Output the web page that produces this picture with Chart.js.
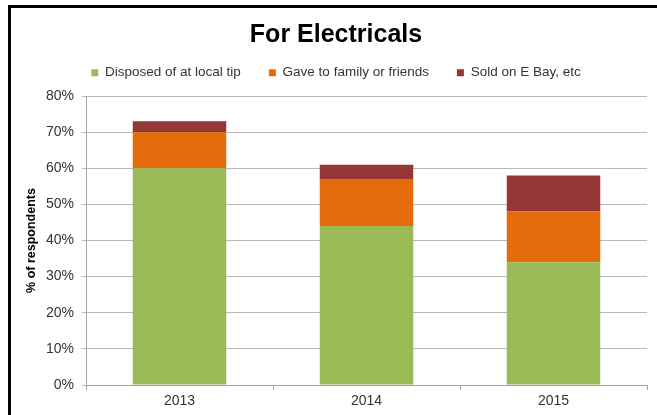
<!DOCTYPE html>
<html>
<head>
<meta charset="utf-8">
<script src="https://cdn.jsdelivr.net/npm/chart.js@4/dist/chart.umd.min.js"></script>
<style>
  html, body { margin: 0; padding: 0; background: #fff; overflow: hidden; }
  #frame {
    position: absolute;
    left: 8px;
    top: 5px;
    border-left: 3px solid #000;
    border-top: 3px solid #000;
    width: 646px;
    height: 407px;
  }
  canvas { display: block; }
</style>
</head>
<body>
<div id="frame"><canvas id="chart" width="646" height="407"></canvas></div>
<script>
// Chart values (percent of respondents)
const years = ["2013", "2014", "2015"];
const disposedAtTip = [60, 44, 34];
const gaveToFamily = [10, 13, 14];
const soldOnEbay = [3, 4, 10];
const seriesNames = ["Disposed of at local tip", "Gave to family or friends", "Sold on E Bay, etc"];

Chart.defaults.font.family = "'Liberation Sans', Arial, sans-serif";
Chart.defaults.color = "#333";

const ctx = document.getElementById("chart");

new Chart(ctx, {
  type: "bar",
  data: {
    labels: years,
    datasets: [
      { label: seriesNames[0], data: disposedAtTip, backgroundColor: "#9bbb59" },
      { label: seriesNames[1], data: gaveToFamily, backgroundColor: "#e46c0a" },
      { label: seriesNames[2], data: soldOnEbay, backgroundColor: "#953735" },
    ],
  },
  options: {
    responsive: false,
    animation: false,
    layout: { padding: { left: 14, right: 10, top: 0, bottom: 0 } },
    datasets: {
      bar: { categoryPercentage: 1, barPercentage: 0.5 },
    },
    plugins: {
      title: {
        display: true,
        text: "For Electricals",
        color: "#000",
        font: { size: 25, weight: "bold", lineHeight: 0.2 },
        padding: { top: 25, bottom: 0 },
      },
      legend: {
        display: true,
        position: "top",
        labels: {
          boxWidth: 7,
          boxHeight: 7,
          padding: 28,
          color: "#333",
          font: { size: 13.5 },
        },
      },
      // empty subtitle used as a spacer under the legend
      subtitle: {
        display: true,
        text: "",
        weight: 500,
        font: { size: 6, lineHeight: 1 },
        padding: { top: 0, bottom: 0.5 },
      },
      tooltip: { enabled: false },
    },
    scales: {
      x: {
        stacked: true,
        afterFit: (scale) => { scale.height = 30; },
        grid: {
          display: true,
          drawOnChartArea: false,
          drawTicks: true,
          tickLength: 5,
          offset: true,
          color: "#a6a6a6",
        },
        border: { display: true, color: "#a6a6a6" },
        ticks: { padding: 3, color: "#333", font: { size: 14 } },
      },
      y: {
        stacked: true,
        min: 0,
        max: 80,
        afterFit: (scale) => { scale.width = 61; },
        title: {
          display: true,
          text: "% of respondents",
          color: "#000",
          font: { size: 12.5, weight: "bold", lineHeight: 1 },
          padding: { top: 0, bottom: 0 },
        },
        grid: {
          color: "#b9b9b9",
          tickLength: 4,
          drawTicks: true,
        },
        border: { display: true, color: "#a6a6a6" },
        ticks: {
          stepSize: 10,
          padding: 8,
          color: "#333",
          font: { size: 14 },
          callback: (v) => v + "%",
        },
      },
    },
  },
});
</script>
</body>
</html>
